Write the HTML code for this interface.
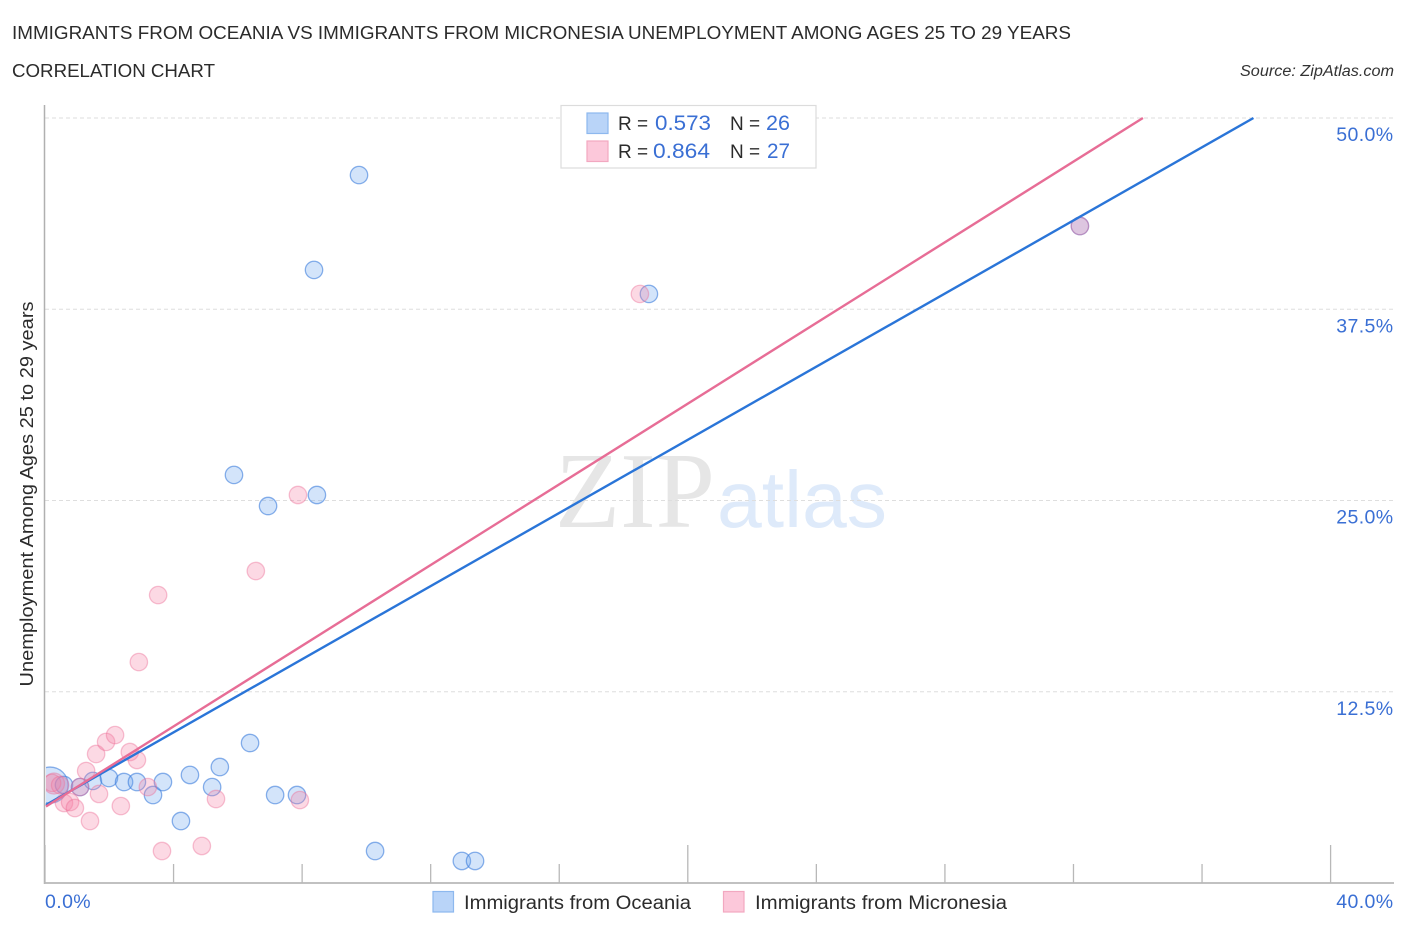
<!DOCTYPE html>
<html lang="en">
<head>
<meta charset="utf-8">
<title>Immigrants from Oceania vs Immigrants from Micronesia Unemployment Correlation Chart</title>
<style>
html,body{margin:0;padding:0;background:#fff;width:1406px;height:930px;overflow:hidden}
svg{display:block}
text{font-family:"Liberation Sans",sans-serif}
</style>
</head>
<body>
<svg id="chart" width="1406" height="930" viewBox="0 0 1406 930" xmlns="http://www.w3.org/2000/svg">
  <defs><clipPath id="plot-clip"><rect x="46" y="100" width="1348" height="783"/></clipPath></defs>
  <text x="12" y="39" font-size="18.5" fill="#2b2b2b" textLength="1059" lengthAdjust="spacingAndGlyphs">IMMIGRANTS FROM OCEANIA VS IMMIGRANTS FROM MICRONESIA UNEMPLOYMENT AMONG AGES 25 TO 29 YEARS</text>
  <text x="12" y="77" font-size="18.5" fill="#2b2b2b" textLength="203" lengthAdjust="spacingAndGlyphs">CORRELATION CHART</text>
  <text x="1394" y="76" font-size="15.5" font-style="italic" fill="#333" text-anchor="end" textLength="154" lengthAdjust="spacingAndGlyphs">Source: ZipAtlas.com</text>

  <text x="555" y="527" font-size="108" fill="#e6e6e6" style="font-family:'Liberation Serif',serif" textLength="160" lengthAdjust="spacingAndGlyphs">ZIP</text>
  <text x="717" y="527" font-size="80" fill="#deeafa" textLength="170" lengthAdjust="spacingAndGlyphs">atlas</text>

  <g id="grid"></g>
  <g id="axes"></g>
  <g id="points" clip-path="url(#plot-clip)"></g>
  <g id="lines"></g>
  <g id="labels"></g>

  <text transform="translate(33,494) rotate(-90)" font-size="18.5" fill="#2b2b2b" text-anchor="middle" textLength="385" lengthAdjust="spacingAndGlyphs">Unemployment Among Ages 25 to 29 years</text>

  <g>
    <rect x="561" y="105.500" width="255" height="62.500" fill="#fff" stroke="#dcdcdc" stroke-width="1.200"/>
    <rect x="587" y="113" width="21" height="20.500" fill="#b9d4f8" stroke="#8db8ee" stroke-width="1.200"/>
    <rect x="587" y="141" width="21" height="20.500" fill="#fcc8da" stroke="#f2a8c0" stroke-width="1.200"/>
    <text x="618" y="130" font-size="19" fill="#2b2b2b">R =</text>
    <text x="655" y="130" font-size="21" fill="#3a6fd4" textLength="56" lengthAdjust="spacingAndGlyphs">0.573</text>
    <text x="730" y="130" font-size="19" fill="#2b2b2b">N =</text>
    <text x="766" y="130" font-size="21" fill="#3a6fd4" textLength="24" lengthAdjust="spacingAndGlyphs">26</text>
    <text x="618" y="158" font-size="19" fill="#2b2b2b">R =</text>
    <text x="653" y="158" font-size="21" fill="#3a6fd4" textLength="57" lengthAdjust="spacingAndGlyphs">0.864</text>
    <text x="730" y="158" font-size="19" fill="#2b2b2b">N =</text>
    <text x="767" y="158" font-size="21" fill="#3a6fd4" textLength="23" lengthAdjust="spacingAndGlyphs">27</text>
  </g>

  <g>
    <rect x="433" y="891.500" width="20.500" height="20.500" fill="#b9d4f8" stroke="#8db8ee" stroke-width="1.200"/>
    <text x="464" y="909" font-size="19" fill="#2b2b2b" textLength="227" lengthAdjust="spacingAndGlyphs">Immigrants from Oceania</text>
    <rect x="723.500" y="891.500" width="20.500" height="20.500" fill="#fcc8da" stroke="#f2a8c0" stroke-width="1.200"/>
    <text x="755" y="909" font-size="19" fill="#2b2b2b" textLength="252" lengthAdjust="spacingAndGlyphs">Immigrants from Micronesia</text>
  </g>
</svg>
<script>
const xTickValues = [0, 4, 8, 12, 16, 20, 24, 28, 32, 36, 40];
const xMajorTicks = [0, 20, 40];
const yGridValues = [12.5, 25, 37.5, 50];
const yTickLabels = ["12.5%", "25.0%", "37.5%", "50.0%"];
const xEndValues = [0, 40];
const xEndLabels = ["0.0%", "40.0%"];

const oceaniaX = [0.16, 0.59, 1.09, 1.49, 1.99, 2.46, 2.86, 3.36, 3.67, 4.23, 4.51, 5.2, 5.44, 6.38, 7.16, 7.84, 5.88, 6.94, 8.46, 8.37, 9.77, 18.79, 32.2, 10.27, 12.97, 13.38];
const oceaniaY = [6.4, 6.41, 6.27, 6.67, 6.86, 6.6, 6.6, 5.75, 6.6, 4.05, 7.06, 6.27, 7.58, 9.15, 5.75, 5.75, 26.67, 24.64, 25.36, 40.07, 46.27, 38.5, 42.94, 2.09, 1.44, 1.44];
const micronesiaX = [0.28, 0.22, 0.47, 0.59, 0.78, 0.93, 1.09, 1.28, 1.4, 1.59, 1.68, 1.9, 2.18, 2.36, 2.64, 2.86, 2.92, 3.2, 3.52, 3.64, 4.88, 5.32, 6.56, 7.87, 7.93, 18.51, 32.2];
const micronesiaY = [6.5, 6.54, 6.4, 5.23, 5.29, 4.9, 6.27, 7.32, 4.05, 8.43, 5.82, 9.22, 9.67, 5.03, 8.56, 8.04, 14.44, 6.27, 18.82, 2.09, 2.42, 5.49, 20.39, 25.36, 5.42, 38.5, 42.94];

const oceaniaTrendX = [0.03, 37.6];
const oceaniaTrendY = [5.1, 50];
const micronesiaTrendX = [0.03, 34.16];
const micronesiaTrendY = [5.0, 50];

const NS = 'http://www.w3.org/2000/svg';
function xScale(v) { return 45 + v * 32.14; }
function yScale(v) { return 883 - v * 15.3; }
function make(tag, attrs, parent) {
  const el = document.createElementNS(NS, tag);
  for (const k in attrs) el.setAttribute(k, attrs[k]);
  parent.appendChild(el);
  return el;
}
const grid = document.getElementById('grid');
const axes = document.getElementById('axes');
const points = document.getElementById('points');
const lines = document.getElementById('lines');
const labels = document.getElementById('labels');

yGridValues.forEach(function (v) {
  const el = make('line', {x1: 45, x2: 1394, y1: yScale(v), y2: yScale(v), stroke: '#dedede', 'stroke-width': 1, 'stroke-dasharray': '4 3'}, grid);
  
  
});

const yAxis = make('line', {x1: 44.5, x2: 44.5, y1: 105, y2: 884, stroke: '#b0b0b0', 'stroke-width': 1.5}, axes);


const xAxis = make('line', {x1: 44, x2: 1394, y1: 883, y2: 883, stroke: '#b8b8b8', 'stroke-width': 1.8}, axes);


xTickValues.forEach(function (v) {
  const top = xMajorTicks.indexOf(v) >= 0 ? 845 : 864;
  const el = make('line', {x1: xScale(v), x2: xScale(v), y1: top, y2: 883, stroke: '#b8b8b8', 'stroke-width': 1.3}, axes);
  
  
});

function drawSeries(xs, ys, fill, stroke, bigRadius, name) {
  xs.forEach(function (v, i) {
    const el = make('circle', {cx: xScale(v), cy: yScale(ys[i]), r: i === 0 ? bigRadius : 8.7, fill: fill, stroke: stroke, 'stroke-width': 1.3}, points);
    
    
  });
}
drawSeries(oceaniaX, oceaniaY, 'rgba(110,165,238,0.3)', 'rgba(60,125,220,0.6)', 18, 'oceania-point');
drawSeries(micronesiaX, micronesiaY, 'rgba(245,130,165,0.3)', 'rgba(235,110,150,0.42)', 10.5, 'micronesia-point');

const oceaniaLine = make('line', {x1: xScale(oceaniaTrendX[0]), y1: yScale(oceaniaTrendY[0]), x2: xScale(oceaniaTrendX[1]), y2: yScale(oceaniaTrendY[1]), stroke: '#2a75d8', 'stroke-width': 2.4}, lines);


const micronesiaLine = make('line', {x1: xScale(micronesiaTrendX[0]), y1: yScale(micronesiaTrendY[0]), x2: xScale(micronesiaTrendX[1]), y2: yScale(micronesiaTrendY[1]), stroke: '#e76d96', 'stroke-width': 2.4}, lines);



yGridValues.forEach(function (v, i) {
  const el = make('text', {x: 1393.5, y: yScale(v) + 23, 'font-size': 19.5, 'letter-spacing': 0.4, fill: '#3a6fd4', 'text-anchor': 'end'}, labels);
  el.textContent = yTickLabels[i];
  
  
});
xEndValues.forEach(function (v, i) {
  const el = make('text', {x: i === 0 ? xScale(v) : 1393.5, y: 908, 'font-size': 19.5, 'letter-spacing': 0.4, fill: '#3a6fd4', 'text-anchor': i === 0 ? 'start' : 'end'}, labels);
  el.textContent = xEndLabels[i];
  
  
});
</script>
</body>
</html>
